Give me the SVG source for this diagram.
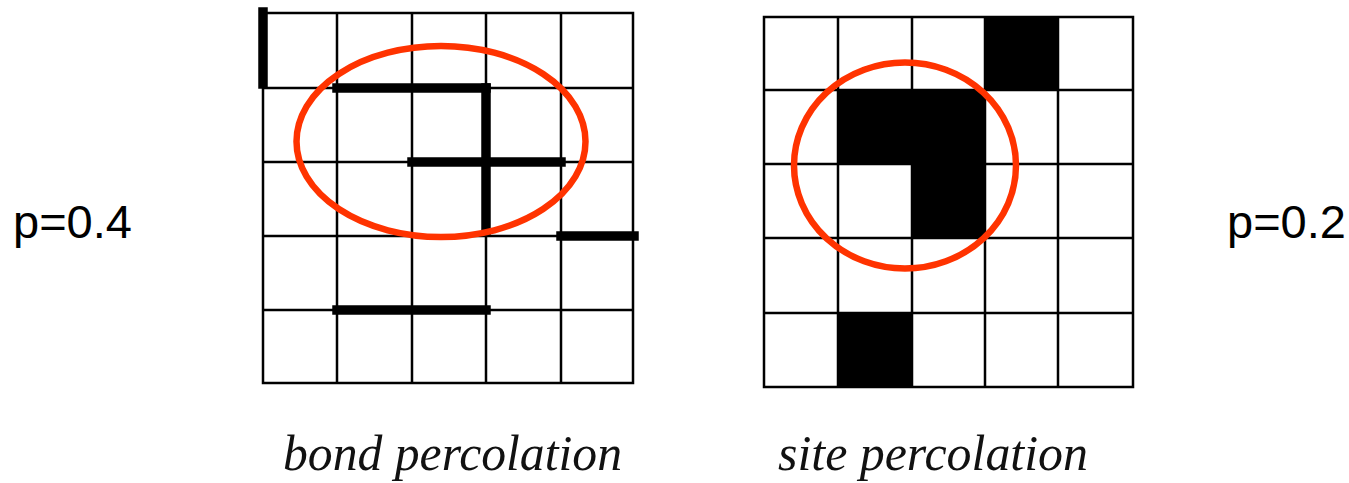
<svg xmlns="http://www.w3.org/2000/svg" width="1349" height="483" viewBox="0 0 1349 483">
<style>
.grid{stroke:#000;stroke-width:2.5;fill:none;stroke-linecap:square}
.bond{stroke:#000;stroke-width:9.5;stroke-linecap:square}
.site{fill:#000}
.ring{fill:none;stroke:#ff3300;stroke-width:6.5}
.plab{font-family:"Liberation Sans",Arial,sans-serif;font-size:46px;fill:#000}
.cap{font-family:"Liberation Serif","Times New Roman",serif;font-style:italic;font-size:50px;fill:#111}
</style>
<rect width="1349" height="483" fill="#fff"/>
<g id="bond-grid">
<path class="grid" d="M263 13H633M263 88H633M263 162H633M263 236H633M263 310H633M263 383H633M263 13V383M337 13V383M412 13V383M486 13V383M561 13V383M633 13V383"/>
</g>
<g id="bonds">
<line class="bond" x1="263" y1="12" x2="263" y2="84"/>
<line class="bond" x1="337" y1="88" x2="486" y2="88"/>
<line class="bond" x1="486" y1="88" x2="486" y2="232"/>
<line class="bond" x1="412" y1="162" x2="561" y2="162"/>
<line class="bond" x1="561" y1="236" x2="634" y2="236"/>
<line class="bond" x1="337" y1="310" x2="486" y2="310"/>
</g>
<g id="bond-ellipse">
<ellipse class="ring" cx="441" cy="141.5" rx="144.5" ry="95.5"/>
</g>
<g id="site-grid">
<rect class="site" x="985" y="17" width="73" height="73"/>
<rect class="site" x="838" y="90" width="147" height="74"/>
<rect class="site" x="912" y="164" width="73" height="74"/>
<rect class="site" x="838" y="313" width="74" height="74"/>
<path class="grid" d="M764 17H1133M764 90H1133M764 164H1133M764 238H1133M764 313H1133M764 387H1133M764 17V387M838 17V387M912 17V387M985 17V387M1058 17V387M1133 17V387"/>
</g>
<g id="site-circle">
<ellipse class="ring" cx="905" cy="165.5" rx="111" ry="103"/>
</g>
<g id="labels">
<text class="plab" x="13" y="238" textLength="119" lengthAdjust="spacingAndGlyphs">p=0.4</text>
<text class="plab" x="1227" y="238" textLength="119" lengthAdjust="spacingAndGlyphs">p=0.2</text>
<text class="cap" x="283" y="470" textLength="339" lengthAdjust="spacingAndGlyphs">bond percolation</text>
<text class="cap" x="778" y="470" textLength="310" lengthAdjust="spacingAndGlyphs">site percolation</text>
</g>
</svg>
